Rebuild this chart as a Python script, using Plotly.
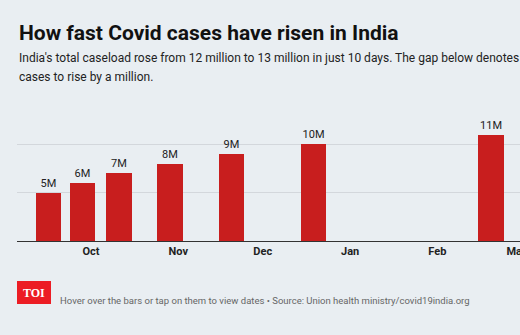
import plotly.graph_objects as go

# Dates on which India's cumulative caseload crossed each million mark
dates = ["2020-09-16", "2020-09-28", "2020-10-11", "2020-10-29",
         "2020-11-20", "2020-12-19", "2021-02-20"]
cases = [5_000_000, 6_000_000, 7_000_000, 8_000_000,
         9_000_000, 10_000_000, 11_000_000]
labels = ["5M", "6M", "7M", "8M", "9M", "10M", "11M"]

title = "How fast Covid cases have risen in India"
subtitle_1 = "India's total caseload rose from 12 million to 13 million in just 10 days. The gap below denotes"
subtitle_2 = "cases to rise by a million."
footer = "Hover over the bars or tap on them to view dates \u2022 Source: Union health ministry/covid19india.org"

BG = "#e9eef2"
RED = "#c81e1e"
FONT = "Roboto"

W, H = 520, 335
M_L, M_R, M_T, M_B = 17, 0, 120, 94
PH = H - M_T - M_B  # plot height in px


def py(y_px):
    """Convert a pixel row (from the top) to paper y."""
    return (H - M_B - y_px) / PH


def px(x_px):
    """Convert a pixel column to paper x."""
    return (x_px - M_L) / (W - M_L - M_R)


fig = go.Figure(go.Bar(
    x=dates, y=cases, width=9 * 86_400_000,
    marker=dict(color=RED, line=dict(width=0)),
    text=labels, textposition="outside", cliponaxis=False,
    textfont=dict(family=FONT, size=11, color="#222222"),
    hovertemplate="%{x|%d %b %Y}: %{text}<extra></extra>",
))

fig.update_xaxes(
    type="date", range=["2020-09-04 17:17", "2021-03-02 08:10"],
    tick0="2020-10-01", dtick="M1", tickformat="%b", ticklabeloverflow="allow",
    ticks="", showgrid=False, showline=True, linecolor="#333333", linewidth=1,
    tickfont=dict(family=FONT, size=11, color="#222222", weight="bold"),
    zeroline=False, fixedrange=True,
)
fig.update_yaxes(
    range=[0, 12_500_000], dtick=5_000_000, showticklabels=False,
    showgrid=True, gridcolor="#d3d7dc", gridwidth=1, zeroline=False, fixedrange=True,
)

annotations = [
    dict(x=0, y=py(33), text=f"<b>{title}</b>", xanchor="left", yanchor="middle",
         font=dict(family=FONT, size=21, color="#111111")),
    dict(x=0, y=py(58), text=subtitle_1, xanchor="left", yanchor="middle",
         font=dict(family=FONT, size=12, color="#222222")),
    dict(x=0, y=py(77), text=subtitle_2, xanchor="left", yanchor="middle",
         font=dict(family=FONT, size=12, color="#222222")),
    dict(x=px(34), y=py(292.5), text="<b>TOI</b>", xanchor="center", yanchor="middle",
         font=dict(family="Liberation Serif", size=12, color="white")),
    dict(x=px(58), y=py(300.7), text=footer, xanchor="left", yanchor="middle",
         font=dict(family=FONT, size=9.5, color="#666666")),
]
for a in annotations:
    a.update(xref="paper", yref="paper", showarrow=False)

fig.update_layout(
    width=W, height=H, margin=dict(l=M_L, r=M_R, t=M_T, b=M_B, autoexpand=False),
    paper_bgcolor=BG, plot_bgcolor=BG, showlegend=False, bargap=0,
    annotations=annotations,
    shapes=[dict(type="rect", xref="paper", yref="paper", layer="below",
                 x0=px(17), x1=px(51), y0=py(281), y1=py(304),
                 fillcolor="#ec1c24", line=dict(width=0))],
)

fig.write_html("out.html")
